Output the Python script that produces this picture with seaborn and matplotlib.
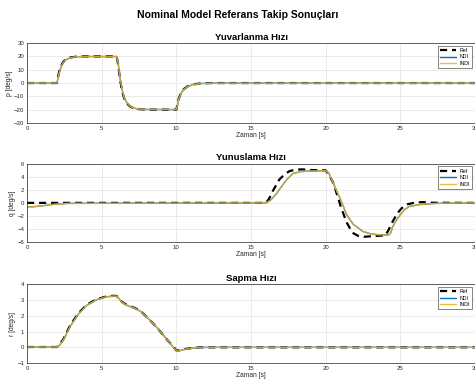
import matplotlib
matplotlib.use("Agg")
import matplotlib.pyplot as plt
import seaborn as sns
import numpy as np

# ---------------- data ----------------
# Roll rate p
p_ref_t = [0, 2.0, 2.1, 2.2, 2.4, 2.6, 2.9, 3.3, 3.8, 6.0, 6.1, 6.2, 6.34, 6.5, 6.7, 6.95, 7.35, 8.0, 10.0, 10.07, 10.15, 10.3, 10.5, 10.75, 11.1, 11.6, 12.3, 30]
p_ref   = [0, 0, 6, 11, 15.5, 17.8, 19.2, 19.8, 20, 20, 14, 5, -5, -11.5, -15.5, -18, -19.4, -19.9, -20, -16, -12, -7.5, -4.5, -2.5, -1, -0.3, 0, 0]
p_ndi_t = [0, 2.0, 2.1, 2.2, 2.4, 2.6, 2.9, 3.3, 3.8, 6.0, 6.1, 6.2, 6.35, 6.5, 6.7, 6.95, 7.35, 8.0, 10.0, 10.07, 10.15, 10.3, 10.5, 10.75, 11.1, 11.6, 12.3, 30]
p_ndi   = [0, 0, 5, 10, 15, 17.5, 19.0, 19.7, 19.9, 19.9, 15, 6, -4, -11, -15, -17.8, -19.3, -19.8, -19.9, -17, -12.5, -8, -4.8, -2.7, -1.1, -0.4, -0.1, 0]
p_indi_t = p_ndi_t
p_indi   = p_ndi

# Pitch rate q
q_ref_t = [0, 16.0, 16.2, 16.5, 16.9, 17.3, 17.6, 18.0, 18.4, 19.0, 20.0, 20.2, 20.5, 20.8, 21.0, 21.4, 21.8, 22.2, 22.6, 23.2, 24.0, 24.2, 24.5, 24.8, 25.1, 25.5, 26.0, 26.5, 27.2, 30]
q_ref   = [0, 0, 0.6, 2.0, 3.6, 4.5, 4.9, 5.1, 5.15, 5.05, 5.0, 4.4, 3.1, 1.0, -0.5, -3.0, -4.6, -5.1, -5.2, -5.1, -5.0, -4.2, -2.8, -1.6, -0.8, -0.2, 0.05, 0.12, 0.02, 0]
q_ndi_t = [0, 0.4, 1.0, 1.5, 2.0, 2.7, 16.0, 16.3, 16.7, 17.1, 17.4, 17.8, 18.3, 18.8, 20.0, 20.2, 20.4, 20.7, 21.0, 21.4, 21.85, 22.5, 23.0, 23.5, 24.2, 24.35, 24.5, 24.75, 25.0, 25.3, 25.6, 26.3, 27.2, 28.3, 30]
q_ndi   = [-0.6, -0.6, -0.45, -0.3, -0.18, -0.08, 0, 0.4, 1.4, 2.7, 3.6, 4.5, 4.8, 4.88, 4.95, 4.6, 3.6, 2.0, 0.5, -1.8, -3.3, -4.4, -4.75, -4.9, -4.95, -4.6, -3.6, -2.6, -1.8, -1.0, -0.55, -0.25, -0.1, -0.02, 0]
q_indi_t = q_ndi_t
q_indi   = q_ndi

# Yaw rate r
r_ref_t = [0, 2.0, 2.2, 2.45, 2.9, 3.45, 4.0, 4.65, 5.3, 5.8, 6.0, 6.15, 6.35, 6.7, 7.2, 7.6, 8.2, 8.7, 9.1, 9.5, 9.8, 10.0, 10.2, 10.5, 11.0, 11.6, 12.5, 30]
r_ref   = [0.02, 0.02, 0.2, 0.55, 1.42, 2.17, 2.7, 3.05, 3.22, 3.27, 3.25, 3.1, 2.88, 2.68, 2.5, 2.3, 1.75, 1.25, 0.8, 0.35, 0.05, -0.2, -0.2, -0.12, -0.05, 0, 0, 0]
r_ndi_t = [0, 2.0, 2.2, 2.45, 2.9, 3.45, 4.0, 4.65, 5.3, 5.8, 6.0, 6.15, 6.35, 6.7, 7.2, 7.6, 8.2, 8.7, 9.1, 9.5, 9.8, 10.05, 10.2, 10.5, 11.0, 11.6, 12.5, 30]
r_ndi   = [0.02, 0.02, 0.15, 0.5, 1.35, 2.12, 2.66, 3.02, 3.2, 3.25, 3.24, 3.1, 2.85, 2.66, 2.48, 2.28, 1.75, 1.25, 0.8, 0.35, 0.0, -0.25, -0.22, -0.14, -0.06, -0.01, 0, 0]
r_indi_t = r_ndi_t
r_indi   = r_ndi

x_ticks = [0, 5, 10, 15, 20, 25, 30]
titles = ["Yuvarlanma Hızı", "Yunuslama Hızı", "Sapma Hızı"]
ylabels = ["p [deg/s]", "q [deg/s]", "r [deg/s]"]
y_ticks = [[-30, -20, -10, 0, 10, 20, 30], [-6, -4, -2, 0, 2, 4, 6], [-1, 0, 1, 2, 3, 4]]
series_names = ["Ref", "NDI", "INDI"]

# ---------------- plotting ----------------
sns.set_style("white")
plt.rcParams['font.family'] = ['Liberation Sans', 'DejaVu Sans']
plt.rcParams['text.color'] = 'black'
plt.rcParams['axes.labelcolor'] = '#262626'

fig = plt.figure(figsize=(4.75, 3.81), dpi=100)
fig.suptitle("Nominal Model Referans Takip Sonuçları", fontsize=7.5, fontweight="bold",
             y=0.975, color="black")

positions = [[0.057, 0.677, 0.943, 0.210],
             [0.057, 0.365, 0.943, 0.205],
             [0.057, 0.047, 0.943, 0.207]]

data = [(p_ref_t, p_ref, p_ndi_t, p_ndi, p_indi_t, p_indi),
        (q_ref_t, q_ref, q_ndi_t, q_ndi, q_indi_t, q_indi),
        (r_ref_t, r_ref, r_ndi_t, r_ndi, r_indi_t, r_indi)]

blue = (0, 0.447, 0.741)
yellow = (0.929, 0.694, 0.125)

for i, (pos, d) in enumerate(zip(positions, data)):
    ax = fig.add_axes(pos)
    rt, rv, nt, nv, it, iv = d
    sns.lineplot(x=rt, y=rv, ax=ax, color="black", linewidth=1.6, label=series_names[0],
                 estimator=None, sort=False, dashes=False)
    ax.lines[-1].set_dashes((3.2, 2.2))
    sns.lineplot(x=nt, y=nv, ax=ax, color=blue, linewidth=1.0, label=series_names[1],
                 estimator=None, sort=False)
    sns.lineplot(x=it, y=iv, ax=ax, color=yellow, linewidth=1.0, alpha=0.85, label=series_names[2],
                 estimator=None, sort=False)
    ax.set_xlim(0, 30)
    ax.set_ylim(y_ticks[i][0], y_ticks[i][-1])
    ax.set_xticks(x_ticks)
    ax.set_yticks(y_ticks[i])
    ax.grid(True, color="#e3e3e3", linewidth=0.5)
    ax.tick_params(direction="in", length=2, width=0.4, labelsize=4.3, pad=2, colors="#262626")
    for s in ax.spines.values():
        s.set_linewidth(0.5)
        s.set_color("#262626")
        s.set_visible(True)
    ax.set_title(titles[i], fontsize=6.8, fontweight="bold", pad=2.5, color="black")
    ax.set_xlabel("Zaman [s]", fontsize=4.8, labelpad=1)
    ax.set_ylabel(ylabels[i], fontsize=4.8, labelpad=1)
    leg = ax.legend(loc="upper right", fontsize=3.8, frameon=True, fancybox=False,
                    handlelength=3.0, borderpad=0.4, labelspacing=0.3, borderaxespad=0.5)
    leg.get_frame().set_edgecolor("#262626")
    leg.get_frame().set_linewidth(0.5)

fig.savefig("out.png", dpi=100)
